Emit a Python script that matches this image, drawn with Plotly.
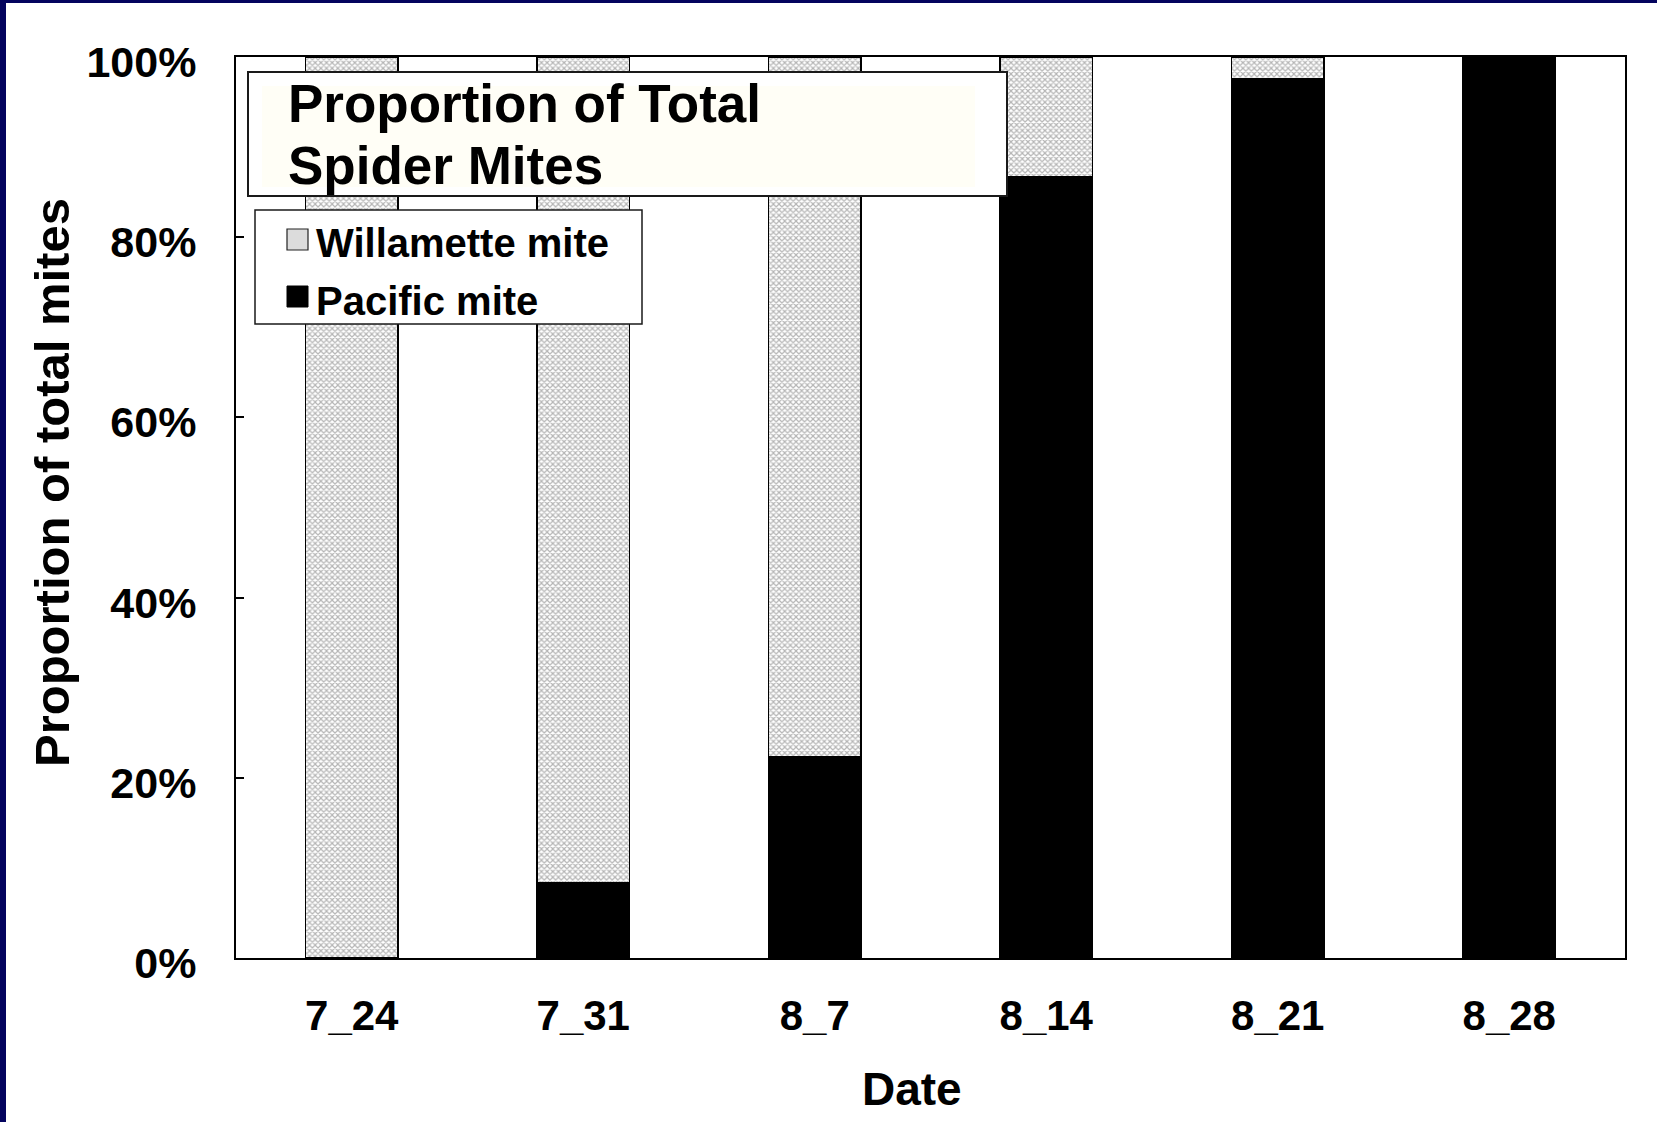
import plotly.graph_objects as go

# Survey dates and the share of each spider mite species (percent of total mites)
dates = ["7_24", "7_31", "8_7", "8_14", "8_21", "8_28"]
pacific_pct = [0.0, 8.3, 22.3, 86.7, 97.6, 100.0]
willamette_pct = [100.0, 91.7, 77.7, 13.3, 2.4, 0.0]
y_tick_vals = [0, 20, 40, 60, 80, 100]
y_tick_text = ["0%", "20%", "40%", "60%", "80%", "100%"]

FONT = "Liberation Sans, Arial, sans-serif"
W, H = 1657, 1122
ML, MR, MT, MB = 236, 32, 57, 164
PW, PH = W - ML - MR, H - MT - MB


def px_x(px):
    """Pixel column -> paper x."""
    return (px - ML) / PW


def px_y(py):
    """Pixel row -> paper y."""
    return (H - MB - py) / PH


fig = go.Figure()

fig.add_trace(go.Bar(
    name="Pacific mite",
    x=dates,
    y=pacific_pct,
    marker=dict(color="black", line=dict(color="black", width=1.5)),
    showlegend=False,
))
fig.add_trace(go.Bar(
    name="Willamette mite",
    x=dates,
    y=willamette_pct,
    marker=dict(
        color="white",
        line=dict(color="black", width=1.5),
        pattern=dict(shape="x", size=4, solidity=0.5,
                     fgcolor="#b5b5b5", bgcolor="white", fillmode="replace"),
    ),
    showlegend=False,
))

shapes = []
# Slide frame strips (top and left)
shapes.append(dict(type="rect", xref="paper", yref="paper",
                   x0=px_x(0), x1=px_x(W), y0=px_y(3), y1=px_y(0),
                   fillcolor="#04045e", line=dict(width=0), layer="above"))
shapes.append(dict(type="rect", xref="paper", yref="paper",
                   x0=px_x(0), x1=px_x(6), y0=px_y(H), y1=px_y(0),
                   fillcolor="#04045e", line=dict(width=0), layer="above"))

# Heading box
shapes.append(dict(type="rect", xref="paper", yref="paper",
                   x0=px_x(248), x1=px_x(1007), y0=px_y(196), y1=px_y(72),
                   fillcolor="white", line=dict(color="#1a1a1a", width=2), layer="above"))
shapes.append(dict(type="rect", xref="paper", yref="paper",
                   x0=px_x(262), x1=px_x(975), y0=px_y(187), y1=px_y(86),
                   fillcolor="#fffef6", line=dict(width=0), layer="above"))

# Legend box
shapes.append(dict(type="rect", xref="paper", yref="paper",
                   x0=px_x(255), x1=px_x(642), y0=px_y(324), y1=px_y(210),
                   fillcolor="white", line=dict(color="#1a1a1a", width=1.5), layer="above"))
# Legend swatches
shapes.append(dict(type="rect", xref="paper", yref="paper",
                   x0=px_x(287), x1=px_x(308), y0=px_y(250), y1=px_y(229),
                   fillcolor="#dcdcdc", line=dict(color="#222222", width=1.2), layer="above"))
shapes.append(dict(type="rect", xref="paper", yref="paper",
                   x0=px_x(287), x1=px_x(308), y0=px_y(307), y1=px_y(286),
                   fillcolor="black", line=dict(color="black", width=1), layer="above"))

annotations = [
    dict(text="<b>Proportion of Total</b>", x=px_x(286), y=px_y(103),
         xanchor="left", yanchor="middle"),
    dict(text="<b>Spider Mites</b>", x=px_x(286), y=px_y(165),
         xanchor="left", yanchor="middle"),
]
for a in annotations:
    a.update(xref="paper", yref="paper", showarrow=False,
             font=dict(family=FONT, size=53, color="black"))

legend_labels = [("Willamette mite", 243), ("Pacific mite", 301)]
for label, cy in legend_labels:
    annotations.append(dict(
        text=f"<b>{label}</b>", x=px_x(314), y=px_y(cy),
        xref="paper", yref="paper", xanchor="left", yanchor="middle",
        showarrow=False, font=dict(family=FONT, size=40, color="black"),
    ))

# Axis titles
annotations.append(dict(
    text="<b>Date</b>", x=px_x(912), y=px_y(1089),
    xref="paper", yref="paper", xanchor="center", yanchor="middle",
    showarrow=False, font=dict(family=FONT, size=46, color="black"),
))
annotations.append(dict(
    text="<b>Proportion of total mites</b>", x=px_x(52), y=px_y(483),
    xref="paper", yref="paper", xanchor="center", yanchor="middle",
    textangle=-90, showarrow=False, font=dict(family=FONT, size=49, color="black"),
))

fig.update_layout(
    width=W, height=H,
    margin=dict(l=ML, r=MR, t=MT, b=MB, pad=0),
    paper_bgcolor="white",
    plot_bgcolor="white",
    barmode="stack",
    bargap=0.6,
    showlegend=False,
    shapes=shapes,
    annotations=annotations,
    font=dict(family=FONT, color="black"),
)

fig.update_xaxes(
    showline=True, linecolor="black", linewidth=2, mirror=True,
    ticks="", showgrid=False, zeroline=False,
    tickfont=dict(family=FONT, size=42, color="black"),
    tickprefix="<b>", ticksuffix="</b>",
    ticklabelstandoff=20,
)
fig.update_yaxes(
    range=[0, 100],
    showline=True, linecolor="black", linewidth=2, mirror=True,
    ticks="inside", ticklen=8, tickwidth=1.5, tickcolor="black",
    tickvals=y_tick_vals, ticktext=[f"<b>{t}</b>" for t in y_tick_text],
    showgrid=False, zeroline=False,
    tickfont=dict(family=FONT, size=43, color="black"),
    ticklabelstandoff=29,
    ticklabelshift=5,
)

fig.write_html("out.html")
